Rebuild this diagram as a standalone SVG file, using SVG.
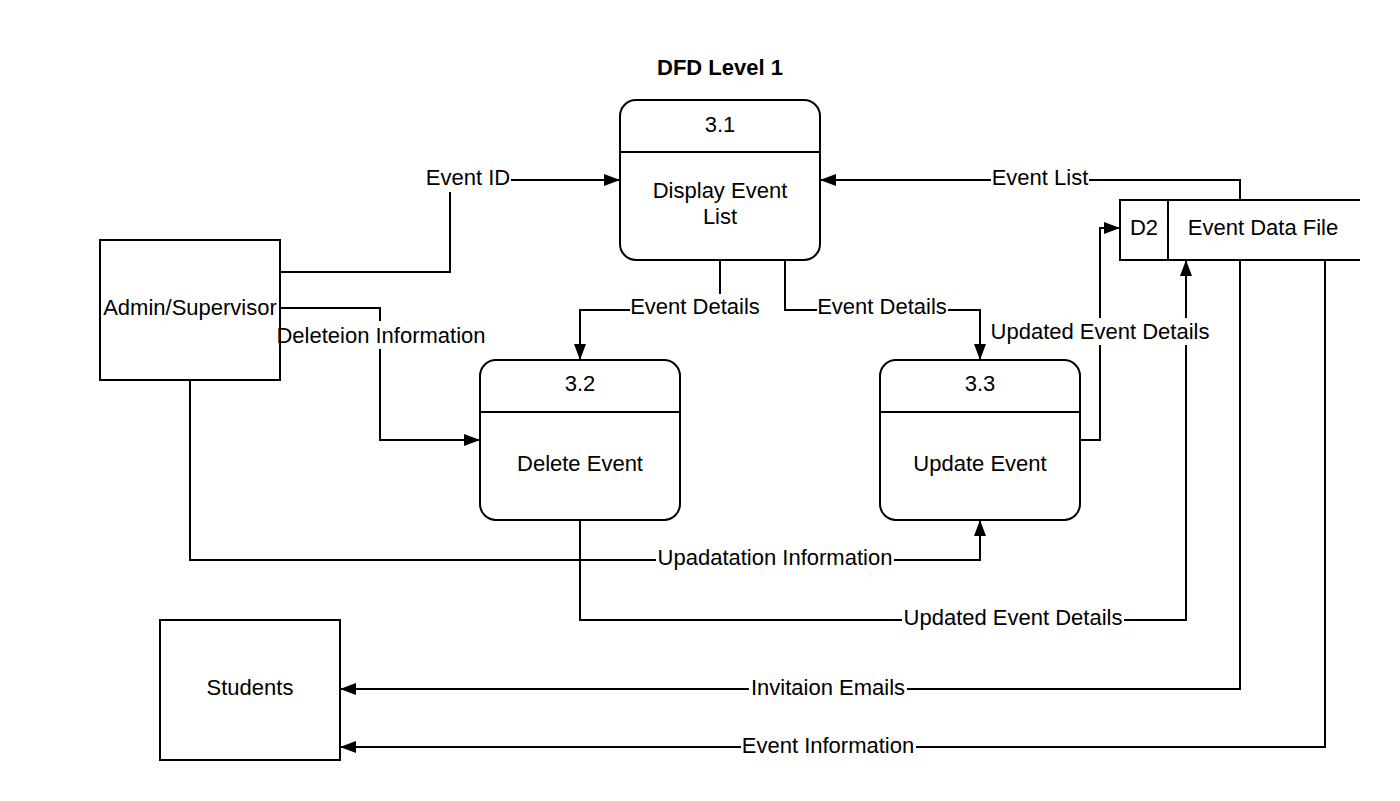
<svg xmlns="http://www.w3.org/2000/svg" width="1400" height="801" viewBox="0 0 1400 801">
<defs>
<marker id="arr" markerUnits="userSpaceOnUse" markerWidth="16" markerHeight="12" refX="16" refY="6" orient="auto">
<path d="M0,0 L16,6 L0,12 z" fill="#000"/>
</marker>
<style>
.ln{fill:none;stroke:#000;stroke-width:2}
.ar{marker-end:url(#arr)}
.bg{fill:#fff;stroke:none}
.nd{fill:#fff;stroke:#000;stroke-width:2}
.t{font-family:"Liberation Sans",Arial,sans-serif;font-size:22px;fill:#000;text-anchor:middle;dominant-baseline:central}
.lb{font-family:"Liberation Sans",Arial,sans-serif;font-size:22px;fill:#000;text-anchor:middle;dominant-baseline:central}
</style>
</defs>
<rect width="1400" height="801" fill="#fff"/>
<text x="720" y="67" class="t" style="font-weight:bold;font-size:22px">DFD Level 1</text>
<g id="connectors">
<path class="ln ar" d="M280,272 H450 V180 H620"/>
<path class="ln ar" d="M280,308 H380 V440 H480"/>
<path class="ln ar" d="M720,260 V310 H580 V360"/>
<path class="ln ar" d="M785,260 V310 H980 V360"/>
<path class="ln ar" d="M1080,440 H1100 V228 H1120"/>
<path class="ln ar" d="M1240,200 V180 H820"/>
<path class="ln ar" d="M580,520 V620 H1186 V260"/>
<path class="ln ar" d="M190,380 V560 H980 V520"/>
<path class="ln ar" d="M1240,260 V689 H340"/>
<path class="ln ar" d="M1325,260 V747 H340"/>
<rect class="bg" x="425" y="165" width="86" height="27"/>
<rect class="bg" x="276" y="321" width="210" height="28"/>
<rect class="bg" x="630" y="294" width="131" height="26"/>
<rect class="bg" x="817" y="294" width="131" height="26"/>
<rect class="bg" x="989" y="318" width="222" height="27"/>
<rect class="bg" x="991" y="165" width="98" height="26"/>
<rect class="bg" x="902" y="605" width="222" height="26"/>
<rect class="bg" x="656" y="545" width="238" height="26"/>
<rect class="bg" x="749" y="675" width="158" height="26"/>
<rect class="bg" x="741" y="733" width="175" height="26"/>
</g>
<g id="admin">
<rect class="nd" x="100" y="240" width="180" height="140"/>
</g>
<g id="students">
<rect class="nd" x="160" y="620" width="180" height="140"/>
<text class="t" x="250" y="687">Students</text>
</g>
<g id="p31">
<rect class="nd" x="620" y="100" width="200" height="160" rx="16"/>
<line class="ln" x1="620" y1="152" x2="820" y2="152"/>
<text class="t" x="720" y="124">3.1</text>
<text class="t" x="720" y="190">Display Event</text>
<text class="t" x="720" y="216">List</text>
</g>
<g id="p32">
<rect class="nd" x="480" y="360" width="200" height="160" rx="16"/>
<line class="ln" x1="480" y1="412" x2="680" y2="412"/>
<text class="t" x="580" y="383">3.2</text>
<text class="t" x="580" y="463">Delete Event</text>
</g>
<g id="p33">
<rect class="nd" x="880" y="360" width="200" height="160" rx="16"/>
<line class="ln" x1="880" y1="412" x2="1080" y2="412"/>
<text class="t" x="980" y="383">3.3</text>
<text class="t" x="980" y="463">Update Event</text>
</g>
<g id="d2">
<rect class="bg" x="1120" y="200" width="240" height="60"/>
<path class="ln" d="M1360,200 H1120 V260 H1360 M1168,200 V260"/>
<text class="t" x="1144" y="227">D2</text>
<text class="t" x="1263" y="227">Event Data File</text>
</g>
<g id="labels">
<text class="lb" x="190" y="307">Admin/Supervisor</text>
<text class="lb" x="468" y="177">Event ID</text>
<text class="lb" x="381" y="335">Deleteion Information</text>
<text class="lb" x="695" y="306">Event Details</text>
<text class="lb" x="882" y="306">Event Details</text>
<text class="lb" x="1100" y="331">Updated Event Details</text>
<text class="lb" x="1040" y="177">Event List</text>
<text class="lb" x="1013" y="617">Updated Event Details</text>
<text class="lb" x="775" y="557">Upadatation Information</text>
<text class="lb" x="828" y="687">Invitaion Emails</text>
<text class="lb" x="828" y="745">Event Information</text>
</g>
</svg>
